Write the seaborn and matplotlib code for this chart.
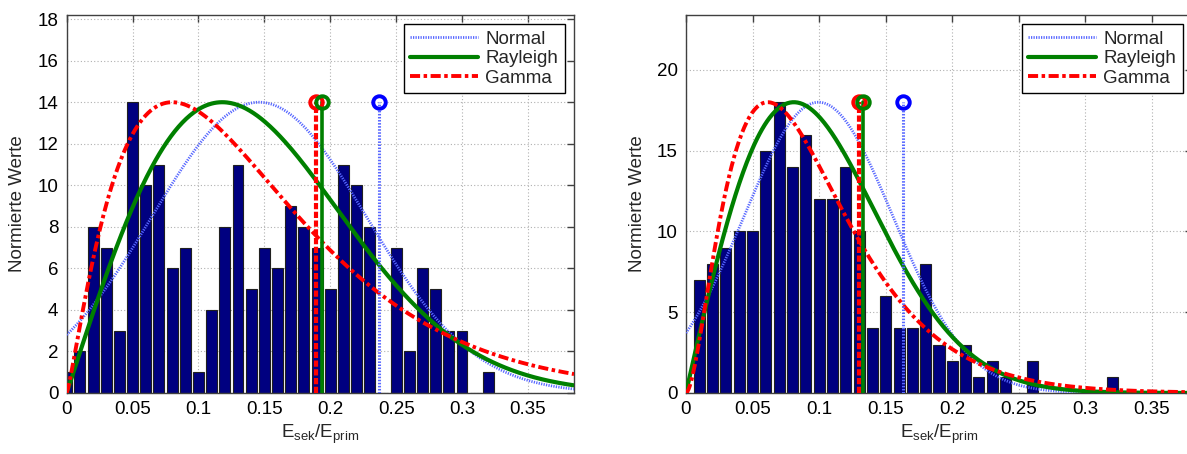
#!/usr/bin/env python
# coding=utf-8

"""
plot.py: histogram of E_sek/E_prim with fitted Normal, Rayleigh and Gamma curves
"""

import numpy as np
import seaborn as sns
import matplotlib
matplotlib.use('Agg')
import matplotlib.pyplot as plt

# bin centres (same for both panels)
binCenters = [0.00, 0.01, 0.02, 0.03, 0.04, 0.05, 0.06, 0.07, 0.08, 0.09,
              0.10, 0.11, 0.12, 0.13, 0.14, 0.15, 0.16, 0.17, 0.18, 0.19,
              0.20, 0.21, 0.22, 0.23, 0.24, 0.25, 0.26, 0.27, 0.28, 0.29,
              0.30, 0.31, 0.32]

# counts, left panel
countsLeft = [1, 2, 8, 7, 3, 14, 10, 11, 6, 7,
              1, 4, 8, 11, 5, 7, 6, 9, 8, 7,
              5, 11, 10, 8, 0, 7, 2, 6, 5, 3,
              3, 0, 1]

# counts, right panel
countsRight = [0, 7, 8, 9, 10, 10, 15, 18, 14, 16,
               12, 12, 14, 10, 4, 6, 4, 4, 8, 3,
               2, 3, 1, 2, 1, 0, 2, 0, 0, 0,
               0, 0, 1]

# fitted distribution parameters
normalLeft = (0.146, 0.0814)     # mu, sigma
rayleighLeft = 0.118             # sigma
gammaLeft = (2.22, 0.0656)       # shape, scale
normalRight = (0.0995, 0.056)
rayleighRight = 0.081
gammaRight = (2.76, 0.0349)

# marker lines (x position per distribution)
markersLeft = {'Normal': 0.237, 'Rayleigh': 0.194, 'Gamma': 0.189}
markersRight = {'Normal': 0.163, 'Rayleigh': 0.133, 'Gamma': 0.130}

xLimits = [0.385, 0.38]
yTicksLeft = [0, 2, 4, 6, 8, 10, 12, 14, 16, 18]
yTicksRight = [0, 5, 10, 15, 20]
xTicks = [0, 0.05, 0.1, 0.15, 0.2, 0.25, 0.3, 0.35]
xTickLabels = ['0', '0.05', '0.1', '0.15', '0.2', '0.25', '0.3', '0.35']

sns.set_theme(style='white')
plt.rcParams['font.family'] = ['Liberation Sans', 'DejaVu Sans']
plt.rcParams['mathtext.fontset'] = 'custom'
plt.rcParams['mathtext.rm'] = 'Liberation Sans'
plt.rcParams['mathtext.it'] = 'Liberation Sans'
plt.rcParams['font.size'] = 13.5

styles = {
	'Normal': dict(color='#5868ff', ls=(0, (0.45, 0.45)), lw=2.0),
	'Rayleigh': dict(color='#008000', ls='-', lw=3.0),
	'Gamma': dict(color='#ff0000', ls=(0, (2.6, 0.9, 0.9, 0.9)), lw=2.8),
}
markerColors = {'Normal': '#0000ff', 'Rayleigh': '#008000', 'Gamma': '#ff0000'}


def pdfCurves(x, normal, rayleigh, gamma):
	mu, sd = normal
	yN = np.exp(-(x - mu) ** 2 / (2 * sd ** 2))
	yR = x / rayleigh ** 2 * np.exp(-x ** 2 / (2 * rayleigh ** 2))
	k, th = gamma
	yG = x ** (k - 1) * np.exp(-x / th)
	return {'Normal': yN, 'Rayleigh': yR, 'Gamma': yG}


def drawPanel(ax, counts, normal, rayleigh, gamma, markers, xmax, yticks):
	peak = max(counts)
	ax.bar(binCenters, counts, width=0.0083, color='#000080',
	       edgecolor='#202020', linewidth=0.8, zorder=2)
	x = np.linspace(0, xmax, 400)
	curves = pdfCurves(x, normal, rayleigh, gamma)
	for name in ['Normal', 'Rayleigh', 'Gamma']:
		y = curves[name] / curves[name].max() * peak
		st = styles[name]
		sns.lineplot(x=x, y=y, ax=ax, color=st['color'], linestyle=st['ls'],
		             linewidth=st['lw'], label=name, zorder=3)
	for name in ['Gamma', 'Rayleigh', 'Normal']:
		st = styles[name]
		mx = markers[name]
		vls = {'Normal': (0, (0.5, 0.5)), 'Rayleigh': '-', 'Gamma': (0, (1.5, 0.6))}[name]
		vlw = {'Normal': 2.2, 'Rayleigh': 2.6, 'Gamma': 3.0}[name]
		ax.plot([mx, mx], [0, peak], color=st['color'], ls=vls, lw=vlw, zorder=4)
		ax.plot([mx], [peak], marker='o', ms=9, mfc='none', mec=markerColors[name],
		        mew=2.8, zorder=5, clip_on=False)

	ax.set_xlim(0, xmax)
	ax.set_ylim(0, peak * 1.3)
	ax.set_xticks(xTicks)
	ax.set_xticklabels(xTickLabels)
	ax.set_yticks(yticks)
	ax.grid(True, color='#b0b0b0', ls=(0, (1, 2)), lw=0.8)
	ax.set_axisbelow(True)
	ax.tick_params(direction='in', length=5, width=1, color='#404040',
	               top=True, right=True, labelsize=13.5, pad=6, labelcolor='black')
	for s in ax.spines.values():
		s.set_color('#404040')
		s.set_linewidth(1.0)
	ax.set_xlabel(r'$\mathregular{E_{sek}/E_{prim}}$', fontsize=13.5, labelpad=3)
	ax.set_ylabel('Normierte Werte', fontsize=13.5, labelpad=8)
	leg = ax.legend(loc='upper right', fancybox=False, edgecolor='black',
	                framealpha=1, fontsize=13.5, handlelength=3.6,
	                handletextpad=0.4, labelspacing=0.12, borderpad=0.35,
	                borderaxespad=0.5)
	leg.get_frame().set_linewidth(1.0)
	leg.set_zorder(10)


fig = plt.figure(figsize=(11.87, 4.54), dpi=100)
axLeft = fig.add_axes([0.0562, 0.1344, 0.4274, 0.8326])
axRight = fig.add_axes([0.5779, 0.1344, 0.4263, 0.8326])

drawPanel(axLeft, countsLeft, normalLeft, rayleighLeft, gammaLeft,
          markersLeft, xLimits[0], yTicksLeft)
drawPanel(axRight, countsRight, normalRight, rayleighRight, gammaRight,
          markersRight, xLimits[1], yTicksRight)

fig.savefig('out.png', dpi=100)
